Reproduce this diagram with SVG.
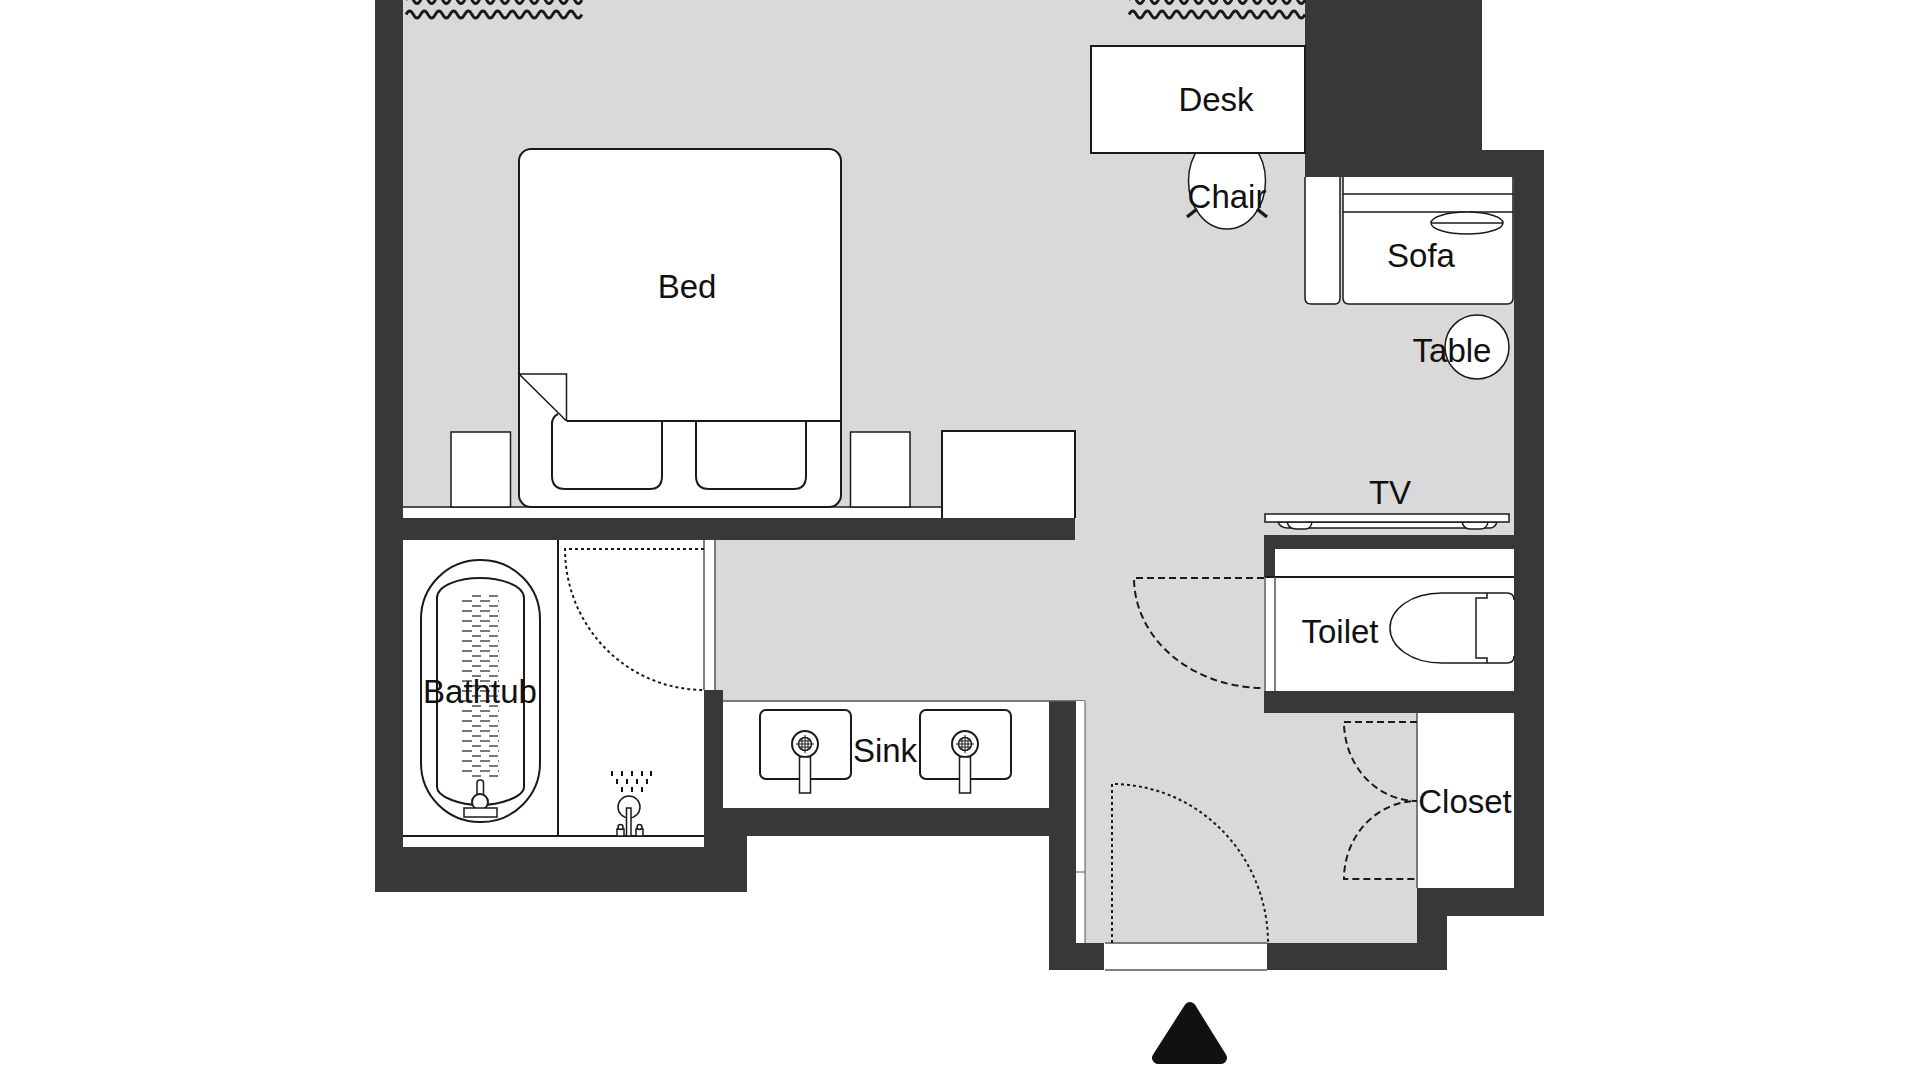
<svg xmlns="http://www.w3.org/2000/svg" width="1920" height="1080" viewBox="0 0 1920 1080">
<style>
.w{fill:#383838}
.f{fill:#fff;stroke:#1a1a1a;stroke-width:2}
.l{fill:none;stroke:#1a1a1a;stroke-width:2}
.t{fill:#fff;stroke:#1a1a1a;stroke-width:1.5}
.d{fill:none;stroke:#1a1a1a;stroke-width:2;stroke-dasharray:3 3}
.da{fill:none;stroke:#1a1a1a;stroke-width:2;stroke-dasharray:7 4}
.n{stroke-width:1}
.m{stroke-width:1.5}
.b{stroke-width:2.8}
.g{stroke:#555}
text{font-family:"Liberation Sans",Arial,sans-serif;font-size:33px;fill:#111;text-anchor:middle}
</style>
<defs>
<path id="wave" class="l b" d="M0 0q3.67 -7 7.33 0t7.33 0t7.33 0t7.33 0t7.33 0t7.33 0t7.33 0t7.33 0t7.33 0t7.33 0t7.33 0t7.33 0t7.33 0t7.33 0t7.33 0t7.33 0t7.33 0t7.33 0t7.33 0t7.33 0t7.33 0t7.33 0t7.33 0t7.33 0"/>
<pattern id="brick" patternUnits="userSpaceOnUse" x="462" y="595" width="36" height="10">
<rect x="10" y="0" width="9" height="2" fill="#777"/><rect x="27" y="0" width="9" height="2" fill="#777"/>
<rect x="0" y="5" width="10" height="2" fill="#777"/><rect x="18" y="5" width="10" height="2" fill="#777"/>
</pattern>
<g id="sinkUnit">
<rect class="f" x="-45" y="-34" width="91" height="69" rx="6"/>
<circle class="f" cx="0" cy="0" r="13"/>
<circle class="l m" cx="0" cy="0" r="6.500"/>
<path class="l n" d="M-9 0H9M0 -9V9M-3 -5V5M3 -5V5M-5 -3H5M-5 3H5"/>
<rect class="t" x="-5.500" y="13" width="11" height="36"/>
</g>
</defs>

<rect width="1920" height="1080" fill="#fff"/>
<path id="floor" fill="#d9d9d9" d="M403 0H1305V177H1514V535H1264V713H1417V943H1085V701H715V540H1075V518H403Z"/>

<g id="walls">
<rect class="w" x="375" y="0" width="28" height="892"/>
<rect class="w" x="375" y="847" width="372" height="45"/>
<rect class="w" x="704" y="690" width="19" height="157"/>
<rect class="w" x="723" y="808" width="326" height="28"/>
<rect class="w" x="723" y="836" width="24" height="56"/>
<rect class="w" x="403" y="518" width="672" height="22"/>
<rect class="w" x="1049" y="701" width="27" height="269"/>
<rect class="w" x="1049" y="943" width="55" height="27"/>
<rect class="w" x="1267" y="943" width="180" height="27"/>
<rect class="w" x="1417" y="888" width="30" height="82"/>
<rect class="w" x="1417" y="888" width="127" height="28"/>
<rect class="w" x="1514" y="150" width="30" height="766"/>
<rect class="w" x="1305" y="0" width="177" height="177"/>
<rect class="w" x="1482" y="150" width="32" height="27"/>
<rect class="w" x="1264" y="535" width="250" height="14"/>
<rect class="w" x="1264" y="535" width="11" height="42"/>
<rect class="w" x="1264" y="691" width="250" height="22"/>
</g>

<g id="curtains">
<use href="#wave" x="406" y="14.500"/>
<use href="#wave" x="406" y="0"/>
<use href="#wave" x="1129" y="14.500"/>
<use href="#wave" x="1129" y="0"/>
</g>

<g id="bedroom-ledge">
<rect x="403" y="507" width="540" height="11" fill="#fff"/>
<path class="l m" d="M403 507H943"/>
<path class="f" d="M942 518V431H1075V518"/>
<rect class="t" x="451" y="432" width="59.500" height="75"/>
<rect class="t" x="850.500" y="432" width="59.500" height="75"/>
</g>

<g id="bed">
<rect class="f" x="519" y="149" width="322" height="358" rx="12"/>
<path class="t" d="M519 374H566.500V421L519 374Z"/>
<path class="f" d="M552 421V476Q552 489 565 489H650Q662 489 662 476V421"/>
<path class="f" d="M696 421V476Q696 489 709 489H794Q806 489 806 476V421"/>
<path class="l" d="M558 414Q552 417 552 424M566.500 421H841"/>
<text x="687" y="298">Bed</text>
</g>

<g id="chair">
<ellipse class="t" cx="1227" cy="181" rx="38.500" ry="48"/>
<path class="l" style="stroke-width:3.5" d="M1187 217L1197 209M1257 209L1267 217"/>
</g>

<g id="desk">
<rect class="f" x="1091" y="46" width="214" height="107"/>
<text x="1216" y="111">Desk</text>
</g>
<text id="chair-label" x="1227" y="208">Chair</text>

<g id="sofa">
<path class="t" d="M1305 177V298Q1305 304 1311 304H1335Q1340 304 1340 298V177"/>
<path class="t" d="M1343 177V298Q1343 304 1349 304H1507Q1513 304 1513 298V177"/>
<path class="l m" d="M1343 194H1513M1343 212H1513"/>
<ellipse class="t" cx="1467" cy="223" rx="36" ry="11"/>
<path class="l m" d="M1431 223H1503"/>
<text x="1421" y="267">Sofa</text>
</g>

<g id="table">
<circle class="t" cx="1477" cy="347" r="32"/>
<text x="1452" y="362">Table</text>
</g>

<g id="tv">
<path class="t" d="M1278 522Q1280 528 1288 528H1490Q1495 528 1497 522Z"/>
<path class="t" d="M1287 522Q1289 529 1296 529H1305Q1311 529 1312 522Z"/>
<path class="t" d="M1462 522Q1464 529 1470 529H1480Q1487 529 1488 522Z"/>
<rect class="t" x="1265" y="514" width="244" height="8"/>
<text x="1390" y="504">TV</text>
</g>

<g id="bathroom">
<rect x="403" y="540" width="301" height="307" fill="#fff"/>
<path class="l" d="M403 836H704M558 540V836"/>
<rect x="704" y="540" width="11" height="150" fill="#fff"/>
<path class="l m g" d="M704 540V690M715 540V690"/>
<path class="d" d="M704 549H565A139 141 0 0 0 704 690"/>
</g>

<g id="bathtub">
<rect class="l" x="421" y="560" width="119" height="262" rx="59"/>
<path class="l" d="M437 598C437 585 460 578 480 578C500 578 524 585 524 598V787C524 797 500 805 480 805C460 805 437 797 437 787Z"/>
<rect x="462" y="595" width="37" height="184" fill="url(#brick)"/>
<rect class="t" x="477" y="780" width="6.500" height="20" rx="3"/>
<circle class="f" cx="480" cy="802" r="8"/>
<rect class="t" x="464" y="808" width="33" height="9"/>
<text x="480" y="703">Bathtub</text>
</g>

<g id="shower">
<g fill="#111">
<rect x="611" y="771" width="2" height="5"/><rect x="621" y="771" width="2" height="5"/><rect x="631" y="771" width="2" height="5"/><rect x="641" y="771" width="2" height="5"/><rect x="650" y="771" width="2" height="5"/>
<rect x="616" y="779" width="2" height="5"/><rect x="626" y="779" width="2" height="5"/><rect x="636" y="779" width="2" height="5"/><rect x="646" y="779" width="2" height="5"/>
<rect x="621" y="787" width="2" height="5"/><rect x="631" y="787" width="2" height="5"/><rect x="641" y="787" width="2" height="5"/>
</g>
<circle class="t" cx="629" cy="807" r="11"/>
<rect class="t" x="626.500" y="808" width="4.500" height="28"/>
<rect class="t" x="617" y="829" width="7" height="7"/><circle class="t" cx="620.500" cy="827" r="2.500"/>
<rect class="t" x="636" y="829" width="7" height="7"/><circle class="t" cx="639.500" cy="827" r="2.500"/>
</g>

<g id="sink">
<rect x="723" y="701" width="326" height="107" fill="#fff"/>
<path class="l m g" d="M723 701H1085"/>
<use href="#sinkUnit" x="805" y="744"/>
<use href="#sinkUnit" x="965" y="744"/>
<text x="885" y="762">Sink</text>
<rect x="1076" y="701" width="9" height="242" fill="#fff"/>
<path class="l n g" d="M1085 701V943M1076 872H1085"/>
</g>

<g id="toilet">
<rect x="1275" y="549" width="239" height="142" fill="#fff"/>
<rect x="1265" y="577" width="10" height="114" fill="#fff"/>
<path class="l" d="M1265 577H1514"/>
<path class="l m g" d="M1275 577V691M1265 577V691"/>
<path class="da" d="M1264 578H1134A130 110 0 0 0 1264 688"/>
<path class="l m" d="M1514 600Q1514 593 1507 593H1442C1410 593 1390 610 1390 628C1390 646 1410 663 1442 663H1507Q1514 663 1514 656"/>
<path class="l m" d="M1487 593V598H1476V658H1487V663"/>
<text x="1340" y="643">Toilet</text>
</g>

<g id="closet">
<rect x="1417" y="713" width="97" height="175" fill="#fff"/>
<path class="l m g" d="M1417 713V888"/>
<path class="da" d="M1417 722H1344A73 79 0 0 0 1417 801A73 78 0 0 0 1344 879H1417"/>
<text x="1465" y="813">Closet</text>
</g>

<g id="entry">
<rect x="1105" y="943" width="162" height="27" fill="#fff"/>
<path class="l m g" d="M1105 943H1267M1105 970H1267"/>
<path class="d" d="M1112 943V784A156 159 0 0 1 1268 943"/>
</g>

<polygon id="entrance-marker" points="1190,1008 1158,1058 1221,1058" fill="#111" stroke="#111" stroke-width="12" stroke-linejoin="round"/>
</svg>
